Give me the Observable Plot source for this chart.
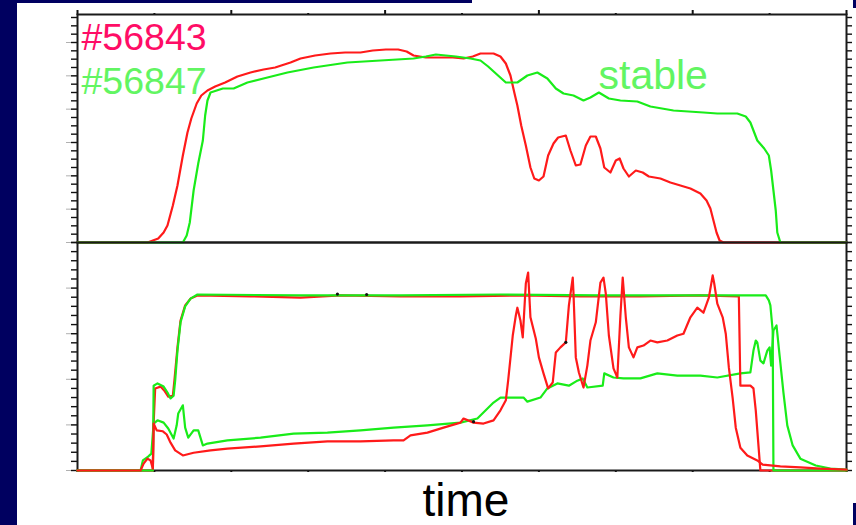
<!DOCTYPE html>
<html>
<head>
<meta charset="utf-8">
<script src="https://cdn.jsdelivr.net/npm/d3@7"></script>
<script src="https://cdn.jsdelivr.net/npm/@observablehq/plot@0.6"></script>
<style>
  html, body { margin: 0; padding: 0; background: #fff; }
  #wrap { position: relative; width: 856px; height: 525px; overflow: hidden; background: #fff; font-family: "Liberation Sans", Arial, sans-serif; }
  .navy { position: absolute; background: #000060; }
  .chart { position: absolute; left: 0; }
</style>
</head>
<body>
<div id="wrap">
  <div class="navy" style="left:0;top:0;width:17px;height:525px"></div>
  <div class="navy" style="left:0;top:0;width:472px;height:3px"></div>
  <div class="navy" style="left:853px;top:0;width:3px;height:8px"></div>
  <div class="navy" style="left:853px;top:503px;width:3px;height:22px"></div>
  <div id="top" class="chart" style="top:0"></div>
  <div id="bot" class="chart" style="top:230px"></div>
</div>
<script>
// ---- labels ----
const shotLabels = ["#56843", "#56847"];
const stableLabel = "stable";
const xLabel = "time";
const xTicks = [0, 1, 2, 3, 4, 5, 6, 7, 8, 9, 10];

// ---- top panel: [time, value] ----
const topRed = [
  [0,0],[0.91,0],[0.98,0.06],[1.05,0.12],[1.12,0.30],[1.17,0.51],[1.24,1.11],[1.30,1.71],[1.37,2.61],
  [1.43,3.30],[1.48,3.72],[1.55,4.17],[1.61,4.41],[1.69,4.56],[1.79,4.68],[1.92,4.80],[2.08,4.98],
  [2.25,5.10],[2.42,5.19],[2.57,5.25],[2.77,5.40],[2.90,5.52],[3.09,5.61],[3.29,5.67],[3.48,5.70],
  [3.68,5.70],[3.84,5.76],[4.01,5.79],[4.17,5.79],[4.28,5.73],[4.37,5.61],[4.53,5.55],[4.72,5.55],
  [4.88,5.55],[5.02,5.52],[5.14,5.58],[5.24,5.67],[5.41,5.67],[5.50,5.58],[5.57,5.37],[5.63,5.01],
  [5.68,4.50],[5.72,4.11],[5.77,3.51],[5.83,2.91],[5.89,2.25],[5.94,1.92],[6.00,1.86],[6.06,1.98],
  [6.12,2.61],[6.19,2.97],[6.25,3.15],[6.35,3.21],[6.41,2.76],[6.48,2.31],[6.54,2.34],[6.61,2.91],
  [6.67,3.18],[6.74,3.18],[6.80,2.82],[6.85,2.25],[6.93,2.10],[7.00,2.46],[7.05,2.52],[7.10,2.22],
  [7.17,1.98],[7.26,2.16],[7.35,2.10],[7.43,1.98],[7.58,1.92],[7.71,1.80],[7.84,1.71],[7.97,1.62],
  [8.10,1.47],[8.18,1.26],[8.23,1.02],[8.27,0.66],[8.31,0.30],[8.35,0.06],[8.40,0],[10,0]
];
const topGreen = [
  [0,0],[1.37,0],[1.42,0.21],[1.46,0.60],[1.51,1.56],[1.57,2.37],[1.63,3.06],[1.66,3.81],[1.69,4.26],
  [1.73,4.50],[1.89,4.62],[2.03,4.62],[2.21,4.80],[2.47,4.95],[2.73,5.10],[3.07,5.25],[3.51,5.40],
  [3.94,5.46],[4.37,5.52],[4.53,5.58],[4.66,5.64],[4.79,5.61],[4.92,5.58],[5.11,5.52],[5.24,5.46],
  [5.34,5.28],[5.44,5.07],[5.57,4.80],[5.72,4.80],[5.85,5.01],[5.98,5.10],[6.11,4.92],[6.22,4.62],
  [6.32,4.47],[6.45,4.41],[6.58,4.26],[6.67,4.35],[6.78,4.50],[6.91,4.32],[7.06,4.26],[7.28,4.23],
  [7.45,4.08],[7.75,3.96],[8.14,3.90],[8.32,3.87],[8.58,3.87],[8.69,3.78],[8.75,3.60],[8.84,3.06],
  [8.93,2.82],[8.99,2.61],[9.02,2.16],[9.05,1.56],[9.08,0.96],[9.10,0.30],[9.14,0],[10,0]
];

// ---- bottom panel: [time, value] ----
const botRedUpper = [
  [0,0],[0.98,0],[0.99,1.03],[1.01,1.80],[1.08,1.84],[1.13,1.75],[1.18,1.62],[1.24,1.64],[1.26,1.97],
  [1.30,2.70],[1.34,3.29],[1.40,3.62],[1.47,3.77],[1.56,3.84],[2.25,3.82],[2.90,3.79],[3.42,3.84],
  [4.20,3.82],[4.98,3.82],[5.76,3.84],[6.54,3.82],[7.32,3.82],[8.10,3.84],[8.60,3.82],[8.62,1.86],
  [8.75,1.86],[8.79,1.80],[8.82,1.32],[8.86,0.44],[8.88,0],[10,0]
];
const botGreenUpper = [
  [0,0],[0.98,0],[0.99,1.86],[1.04,1.91],[1.12,1.84],[1.17,1.71],[1.21,1.58],[1.25,1.64],[1.27,1.97],
  [1.30,2.63],[1.34,3.25],[1.40,3.60],[1.47,3.77],[1.56,3.86],[2.90,3.84],[4.20,3.84],[5.50,3.86],
  [6.80,3.84],[8.10,3.84],[8.95,3.84],[8.99,3.73],[9.01,3.62],[9.04,3.07],[9.05,0],[10,0]
];
const botRedLower = [
  [0,0],[0.82,0],[0.86,0.15],[0.91,0.26],[0.95,0.22],[0.98,0.04],[0.99,1.03],[1.03,0.88],[1.11,0.86],
  [1.16,0.79],[1.21,0.61],[1.27,0.44],[1.37,0.33],[1.51,0.39],[1.73,0.44],[1.95,0.48],[2.38,0.53],
  [2.81,0.59],[3.25,0.64],[3.68,0.64],[4.11,0.66],[4.24,0.66],[4.33,0.77],[4.55,0.83],[4.76,0.94],
  [4.98,1.05],[5.02,1.14],[5.15,1.05],[5.28,1.03],[5.41,1.10],[5.50,1.32],[5.57,1.54],[5.60,1.97],
  [5.66,2.96],[5.70,3.40],[5.72,3.57],[5.76,3.29],[5.79,2.92],[5.83,4.10],[5.86,4.34],[5.89,3.36],
  [5.96,2.89],[6.00,2.48],[6.06,2.13],[6.12,1.80],[6.18,1.93],[6.22,2.59],[6.28,2.70],[6.35,2.81],
  [6.39,3.62],[6.44,4.23],[6.45,3.88],[6.48,2.48],[6.52,2.15],[6.58,1.82],[6.63,2.30],[6.67,2.85],
  [6.74,3.25],[6.80,4.12],[6.84,4.23],[6.87,3.88],[6.91,2.96],[6.97,2.24],[7.02,2.04],[7.06,3.40],
  [7.09,4.23],[7.13,3.36],[7.17,2.70],[7.23,2.48],[7.28,2.70],[7.36,2.74],[7.45,2.85],[7.54,2.81],
  [7.67,2.85],[7.80,2.96],[7.88,3.00],[7.97,3.36],[8.06,3.57],[8.14,3.46],[8.21,3.79],[8.26,4.28],
  [8.28,4.10],[8.32,3.66],[8.39,3.36],[8.43,3.00],[8.47,2.26],[8.52,1.58],[8.56,0.94],[8.62,0.50],
  [8.71,0.33],[8.84,0.22],[8.91,0.13],[9.14,0.09],[9.40,0.07],[9.66,0.04],[10,0.02]
];
const botGreenLower = [
  [0,0],[0.82,0],[0.85,0.22],[0.91,0.29],[0.96,0.37],[0.99,1.03],[1.04,1.10],[1.12,1.05],[1.18,0.92],
  [1.25,0.70],[1.29,0.99],[1.31,1.25],[1.37,1.43],[1.40,0.94],[1.44,0.72],[1.51,0.88],[1.57,0.88],
  [1.63,0.55],[1.69,0.59],[1.95,0.66],[2.38,0.72],[2.81,0.81],[3.25,0.83],[3.68,0.88],[4.11,0.94],
  [4.55,0.99],[4.98,1.05],[5.20,1.14],[5.41,1.49],[5.50,1.60],[5.80,1.60],[5.85,1.51],[6.02,1.60],
  [6.11,1.80],[6.24,1.91],[6.39,1.86],[6.50,1.97],[6.57,2.02],[6.63,1.82],[6.83,1.86],[6.85,2.13],
  [6.97,2.04],[7.10,2.02],[7.32,2.02],[7.54,2.13],[7.80,2.08],[8.10,2.08],[8.32,2.04],[8.62,2.13],
  [8.75,2.15],[8.79,2.63],[8.82,2.85],[8.84,2.81],[8.88,2.41],[8.92,2.35],[8.97,2.63],[9.00,2.70],
  [9.02,2.30],[9.05,3.07],[9.09,3.18],[9.13,2.52],[9.18,1.71],[9.23,0.99],[9.30,0.55],[9.40,0.26],
  [9.60,0.11],[9.79,0.04],[10,0.02]
];
const blackMarks = [[3.38,3.87],[3.76,3.86],[6.35,2.81],[5.15,1.07]];

const RED = "#ff1a1a", GREEN = "#19ec19";
const LABEL_RED = "#ff0d66", LABEL_GREEN = "#62f562";
const FONT = "'Liberation Sans', Arial, sans-serif";
const X = d => d[0], Y = d => d[1];

function yAxes(max, majorStep, minorStep) {
  const majors = d3.range(0, max + 1e-9, majorStep);
  const minors = d3.range(0, max + 1e-9, minorStep);
  const blank = () => "";
  return [
    Plot.axisY({anchor: "left", ticks: majors, tickSize: 11, stroke: "#b0b0b0", tickFormat: blank, label: null}),
    Plot.axisY({anchor: "left", ticks: minors, tickSize: 6, stroke: "#111", strokeWidth: 1.4, tickFormat: blank, label: null}),
    Plot.axisY({anchor: "right", ticks: minors, tickSize: 5, stroke: "#111", strokeWidth: 1.4, tickFormat: blank, label: null})
  ];
}

const topMax = 6.84, botMax = 5;

const topPlot = Plot.plot({
  width: 856, height: 250,
  marginLeft: 77, marginRight: 10, marginTop: 14, marginBottom: 8,
  style: {background: "transparent", fontFamily: FONT, overflow: "visible"},
  x: {domain: [0, 10]},
  y: {domain: [0, topMax]},
  marks: [
    ...yAxes(topMax, 1, 0.25),
    Plot.axisX({anchor: "top", ticks: xTicks.filter(t => t % 2 === 0), tickSize: 5, stroke: "#111", strokeWidth: 2, tickFormat: () => "", label: null}),
    Plot.axisX({anchor: "top", ticks: xTicks.filter(t => t % 2 === 1), tickSize: 2, stroke: "#111", strokeWidth: 2, tickFormat: () => "", label: null}),
    Plot.frame({stroke: "#1a1a1a", strokeWidth: 2}),
    Plot.line(topRed, {x: X, y: Y, stroke: RED, strokeWidth: 2.2}),
    Plot.line(topGreen, {x: X, y: Y, stroke: GREEN, strokeWidth: 2.2}),
    Plot.text([shotLabels[0]], {frameAnchor: "top-left", textAnchor: "start", lineAnchor: "bottom", dx: 4, dy: 35, fill: LABEL_RED, fontSize: 37.5}),
    Plot.text([shotLabels[1]], {frameAnchor: "top-left", textAnchor: "start", lineAnchor: "bottom", dx: 4, dy: 79, fill: LABEL_GREEN, fontSize: 37.5}),
    Plot.text([stableLabel], {frameAnchor: "top-left", textAnchor: "start", lineAnchor: "bottom", dx: 521, dy: 74, fill: LABEL_GREEN, fontSize: 41})
  ]
});
document.getElementById("top").appendChild(topPlot);

const botPlot = Plot.plot({
  width: 856, height: 295,
  marginLeft: 77, marginRight: 10, marginTop: 12, marginBottom: 55,
  style: {background: "transparent", fontFamily: FONT, overflow: "visible"},
  x: {domain: [0, 10]},
  y: {domain: [0, botMax]},
  marks: [
    ...yAxes(botMax, 1, 0.2),
    Plot.axisX({anchor: "bottom", ticks: xTicks, tickSize: 2, stroke: "#111", strokeWidth: 2, tickFormat: () => "", label: null}),
    Plot.frame({stroke: "#1a1a1a", strokeWidth: 2}),
    Plot.line(botGreenLower, {x: X, y: Y, stroke: GREEN, strokeWidth: 2.2}),
    Plot.line(botRedUpper, {x: X, y: Y, stroke: RED, strokeWidth: 2.2}),
    Plot.line(botGreenUpper, {x: X, y: Y, stroke: GREEN, strokeWidth: 2.2}),
    Plot.line(botRedLower, {x: X, y: Y, stroke: RED, strokeWidth: 2.2}),
    Plot.dot(blackMarks, {x: X, y: Y, r: 1.6, fill: "#111", stroke: null}),
    Plot.text([xLabel], {frameAnchor: "bottom", textAnchor: "middle", lineAnchor: "bottom", dx: 4, dy: 45, fill: "#000", fontSize: 46})
  ]
});
document.getElementById("bot").appendChild(botPlot);
</script>
</body>
</html>
